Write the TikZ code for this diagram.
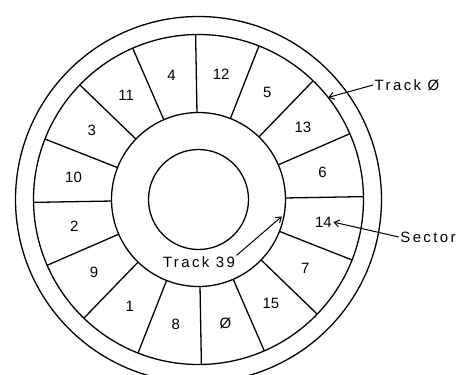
\documentclass[tikz,border=0pt]{standalone}
\usepackage{fontspec}
\setmainfont{Liberation Sans}
\newfontfamily\rotulo[LetterSpace=16]{Liberation Sans}
\usetikzlibrary{arrows.meta}
\newcommand{\giro}{1}

\begin{document}
\begin{tikzpicture}[x=1bp, y=1bp, line width=1.3bp,
  numero/.style={font=\fontsize{15}{17}\selectfont, inner sep=1pt},
  etiqueta/.style={font={\rotulo\fontsize{15}{17}\selectfont}, inner sep=1pt},
  flecha/.style={-{Straight Barb[length=5bp,width=7bp]}, line width=1bp},
]
  \useasboundingbox (-198.5,-174.5) rectangle (273.5,199.5);
  \clip (-198.5,-174.5) rectangle (273.5,199.5);
  % Circunferencias
  \draw (0,0) circle[radius=50];
  \draw (0,0) circle[radius=87];
  \draw (0,0) circle[radius=165];
  \draw (0,0) circle[radius=183];
  % Sectores
  \foreach \k in {0,...,15}
    \draw (\k*22.5+\giro:87) -- (\k*22.5+\giro:165);
  \foreach \n/\id [count=\i from 0] in
    {6/6,13/13,5/5,12/12,4/4,11/11,3/3,10/10,2/2,9/9,1/1,8/8,Ø/0,15/15,7/7,14/14}
    \node[numero] (s\id) at (\i*22.5+11.25+\giro:127) {\n};
  % Rótulos
  \node[etiqueta] (t0) at (208.5,114.5) {Track Ø};
  \node[etiqueta] (sec) at (229.5,-37.5) {Sector};
  \node[etiqueta] (t39) at (0.5,-63) {Track 39};
  \coordinate (p0) at (38.2:165);
  \coordinate (p39) at (-11.5:85);
  \draw[flecha] (t0.west) -- (p0);
  \draw[flecha] (sec.west) -- (s14.east);
  \draw[flecha] (t39.north east) -- (p39);
\end{tikzpicture}
\end{document}
